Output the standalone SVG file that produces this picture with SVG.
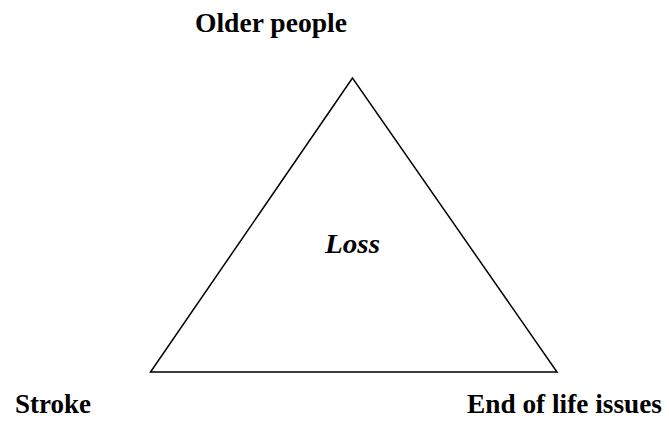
<svg xmlns="http://www.w3.org/2000/svg" width="669" height="424" viewBox="0 0 669 424">
<style>
.lbl{font-family:"Liberation Serif","Times New Roman",serif;font-weight:bold;font-size:27.3px;fill:#000}
.edge{fill:none;stroke:#000;stroke-width:1.5;stroke-linejoin:miter}
</style>
<rect width="669" height="424" fill="#fff"/>
<g id="connectors">
<polygon class="edge" points="352.5,78 150.5,372 557,372"/>
</g>
<g id="node-older"><text class="lbl" x="195" y="32" textLength="152" lengthAdjust="spacingAndGlyphs">Older people</text></g>
<g id="node-loss"><text class="lbl" x="325" y="253" font-style="italic" textLength="55" lengthAdjust="spacingAndGlyphs">Loss</text></g>
<g id="node-stroke"><text class="lbl" x="15" y="413" textLength="76" lengthAdjust="spacingAndGlyphs">Stroke</text></g>
<g id="node-end"><text class="lbl" x="467" y="413" textLength="195" lengthAdjust="spacingAndGlyphs">End of life issues</text></g>
</svg>
